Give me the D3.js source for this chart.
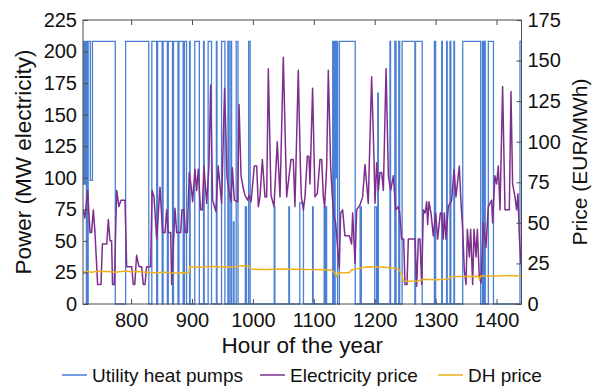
<!DOCTYPE html>
<html>
<head>
<meta charset="utf-8">
<script src="https://cdn.jsdelivr.net/npm/d3@7/dist/d3.min.js"></script>
<style>
  html, body { margin: 0; padding: 0; background: #fff; }
  svg { display: block; }
  text { font-family: "Liberation Sans", Arial, Helvetica, sans-serif; fill: #111; }
</style>
</head>
<body>
<svg id="chart" width="593" height="386"></svg>
<script>
// ---------------- DATA ----------------
const hourTicks  = [800, 900, 1000, 1100, 1200, 1300, 1400];
const powerTicks = [0, 25, 50, 75, 100, 125, 150, 175, 200, 225];
const priceTicks = [0, 25, 50, 75, 100, 125, 150, 175];

const seriesNames = ["Utility heat pumps", "Electricity price", "DH price"];

// Utility heat pumps (MW electricity), step changes: hour -> new level
const hpHours = [721,721.5,722.5,723.5,724.5,725.5,726.5,727.5,728.5,729.5,733,736.5,774,791,829,
  834,842,843.5,851,852.5,859.5,861,868,869.5,877,878.5,885.5,887.5,891,896,897,904.5,912,919,920,
  926.5,932,940,941,948.5,954,959,960,962.5,965,968,969,972.5,975.5,987.5,989.5,993,995.5,
  1035,1036,1059,1060,1077,1083,1098,1099,1117,1118,1120,1121,1131,1132,1133,1134,1135,1137,1138,1139,
  1142,1168,1176,1178,1200,1203,1205,1206,1225,1226,1233,1235,1239.5,1241,1245,1266,1267,1278,
  1298,1300,1310,1311,1318,1319,1323.5,1325,1330,1331,1344.5,1374,1377,1378,1379.5,1381.5,1386.5,1395,
  1438.5,1441];
const hpPower = [208,95,208,95,208,95,0,208,0,208,98,208,0,208,0,
  208,0,208,0,208,0,208,0,208,0,208,0,208,0,208,0,208,0,208,0,
  208,0,208,0,208,0,208,0,208,0,65,0,208,0,77,0,208,0,
  77,0,77,0,80,0,77,0,77,0,77,0,208,0,208,0,208,100,208,0,
  208,0,77,0,77,0,167,0,208,0,208,0,208,0,208,0,208,0,
  208,0,208,0,208,0,208,0,208,0,208,0,208,0,208,0,208,0,
  208,208];

// Electricity price (EUR/MWh)
const elecHours = [721.5,724,728.7,732.5,735,738,740.7,745,750.6,752.8,760,762.6,765.3,768,769.5,772.4,
  776.3,780,783.4,790,792.7,801,803.6,806,809,813,817.3,820,822.8,825.5,832,834.5,837.6,842,847.4,
  851.8,855.6,858.4,861,865,866.6,872,874.8,881.3,883.5,886.8,889,892.3,895.5,898.8,901,904.8,907.6,
  910.3,914,916.9,919.6,924,927.8,930.6,933.8,939.3,943,948.6,953.5,957.5,959.7,964,966.2,969.5,975,
  977.2,980.5,984.3,987,991.4,993.6,996.9,1002.3,1006.2,1008.9,1011.6,1015.5,1019.8,1022.6,1025.3,
  1029.7,1034.6,1040,1044.5,1049.9,1055.4,1062.5,1066.3,1069,1074.5,1077.8,1079.5,1082.8,1085.5,
  1089.3,1092,1093.7,1098,1101.9,1105.7,1110.1,1112.9,1115.6,1117.8,1121.1,1123.8,1127.6,1130.4,
  1133.1,1135.8,1138.6,1141.8,1144,1147.3,1151.1,1158.3,1162.1,1163.7,1165.9,1167.6,1170.3,1175.8,
  1180.1,1184,1189.4,1194.9,1198.7,1200.5,1203.2,1206,1208.7,1211.4,1214.2,1218.6,1222.4,1226.2,
  1230.6,1234.4,1238.8,1241,1244.3,1247.5,1249.7,1253,1255.2,1266.1,1268.9,1271.6,1274.3,1277.1,
  1279.8,1282.6,1285.3,1286.9,1289.1,1292.4,1296.2,1300.1,1303.3,1307.7,1309.9,1312.6,1314.3,1317,
  1320.8,1326.3,1330.2,1333.4,1338.9,1341.7,1344.4,1347.1,1349.9,1352.1,1355.3,1357.5,1360.8,1363,
  1366.3,1368.5,1371.7,1374.5,1378.3,1382.7,1386.5,1392,1393.6,1397.4,1400.2,1402.9,1405.7,1410,
  1413.9,1421,1423.7,1426.4,1430.3,1433,1435.2,1437.4,1440];
const elecPrice = [58,53,70,44,44,58,44,12,12,37,37,52,39,39,12,12,
  70,60,64,64,23,23,12,12,30,23,23,12,12,23,23,70,66,40,72,
  44,44,58,44,44,12,59,44,44,58,58,44,44,81,72,63,83,70,
  83,58,58,85,62,85,135,64,57,85,62,133,78,72,63,84,64,63,
  123,79,71,67,64,67,63,85,85,60,66,89,66,66,145,
  67,60,100,66,152,66,89,89,60,144,87,66,58,66,
  91,91,74,133,66,68,89,89,66,60,85,144,85,66,
  54,50,37,22,56,58,42,42,37,56,40,25,58,61,
  66,86,62,140,91,62,87,70,81,81,70,145,79,70,
  79,58,60,56,40,40,12,12,40,40,11,40,40,12,
  58,56,63,49,63,56,42,56,40,56,56,40,56,40,
  60,64,83,66,85,62,46,21,12,46,29,46,12,46,
  29,46,17,13,50,35,60,64,50,79,74,85,58,134,
  58,58,131,74,66,58,68,42,25];

// District heating price (EUR/MWh)
const dhHours = [721,728,735,745,760,775,790,800,812,825,840,855,870,885,895,896,915,930,945,960,
  972,976,992,997,1020,1050,1080,1100,1129,1134,1137,1140,1158,1162,1176,1188,1210,1236,1240,1244,
  1247,1270,1280,1300,1320,1326,1345,1370,1372,1374,1400,1420,1440];
const dhPrice = [19.5,20,19.5,20.2,20,19.6,20.3,19.8,20,19.6,19.2,19.5,18.9,19.2,19,23,22.7,23.2,22.8,23,
  22.6,23.6,23.5,21.5,21.3,21.6,21.2,21.3,21,19.5,17,19.3,19.2,21,22,23,22.8,22,21,18.5,
  14.2,14,15.2,15,15.3,17,16.9,17.1,15.3,17.3,17.2,17.5,17.4];

// ---------------- CHART ----------------
const svg = d3.select("#chart");
const L = 83, R = 521.5, T = 20, B = 304;

const x  = d3.scaleLinear().domain([721, 1441]).range([L, R]);
const yL = d3.scaleLinear().domain([0, 225]).range([B, T]);
const yR = d3.scaleLinear().domain([0, 175]).range([B, T]);

const colHP = "#4a7fd4", colEl = "#7e2f8e", colDH = "#edb120";
const axisCol = "#4d4d4d";
const tickFont = "20px";

svg.append("defs").append("clipPath").attr("id", "plotclip")
  .append("rect").attr("x", L).attr("y", T - 1).attr("width", R - L).attr("height", B - T + 2);

const plot = svg.append("g").attr("clip-path", "url(#plotclip)");

const hpData = hpHours.map((h, i) => ({h, v: hpPower[i]}));
const elData = elecHours.map((h, i) => ({h, v: elecPrice[i]}));
const dhData = dhHours.map((h, i) => ({h, v: dhPrice[i]}));

plot.append("path").datum(hpData)
  .attr("fill", "none").attr("stroke", colHP).attr("stroke-width", 1.3)
  .attr("d", d3.line().x(d => x(d.h)).y(d => yL(d.v)).curve(d3.curveStepAfter));

plot.append("path").datum(elData)
  .attr("fill", "none").attr("stroke", colEl).attr("stroke-width", 1.5)
  .attr("stroke-linejoin", "round")
  .attr("d", d3.line().x(d => x(d.h)).y(d => yR(d.v)));

plot.append("path").datum(dhData)
  .attr("fill", "none").attr("stroke", colDH).attr("stroke-width", 1.5)
  .attr("d", d3.line().x(d => x(d.h)).y(d => yR(d.v)));

// Axes
function styleAxis(g) {
  g.select(".domain").remove();
  g.selectAll(".tick line").attr("stroke", axisCol);
  g.selectAll(".tick text").style("font-size", tickFont).attr("fill", "#111");
}

svg.append("g").attr("transform", `translate(0,${B})`)
  .call(d3.axisBottom(x).tickValues(hourTicks).tickSize(-5).tickPadding(9).tickFormat(d3.format("d")))
  .call(styleAxis);

svg.append("g").attr("transform", `translate(0,${T})`)
  .call(d3.axisTop(x).tickValues(hourTicks).tickSize(-5).tickFormat(""))
  .call(styleAxis);

svg.append("g").attr("transform", `translate(${L},0)`)
  .call(d3.axisLeft(yL).tickValues(powerTicks).tickSize(-5).tickPadding(6).tickFormat(d3.format("d")))
  .call(styleAxis);

svg.append("g").attr("transform", `translate(${R},0)`)
  .call(d3.axisRight(yR).tickValues(priceTicks).tickSize(-5).tickPadding(6).tickFormat(d3.format("d")))
  .call(styleAxis);

svg.append("rect").attr("x", L).attr("y", T).attr("width", R - L).attr("height", B - T)
  .attr("fill", "none").attr("stroke", axisCol).attr("stroke-width", 1);

// Axis titles
svg.append("text").attr("x", (L + R) / 2).attr("y", 353).attr("text-anchor", "middle")
  .style("font-size", "22.5px").text("Hour of the year");

svg.append("text").attr("transform", `translate(31,${(T + B) / 2}) rotate(-90)`)
  .attr("text-anchor", "middle").style("font-size", "22.5px").text("Power (MW electricity)");

svg.append("text").attr("transform", `translate(587,${(T + B) / 2}) rotate(-90)`)
  .attr("text-anchor", "middle").style("font-size", "21px").text("Price (EUR/MWh)");

// Legend
const legendItems = [
  {name: seriesNames[0], color: colHP, x: 62},
  {name: seriesNames[1], color: colEl, x: 260},
  {name: seriesNames[2], color: colDH, x: 438}
];
const lg = svg.append("g");
legendItems.forEach(it => {
  lg.append("line").attr("x1", it.x).attr("x2", it.x + 25).attr("y1", 375).attr("y2", 375)
    .attr("stroke", it.color).attr("stroke-width", 1.5);
  lg.append("text").attr("x", it.x + 30).attr("y", 381.5).style("font-size", "19px").text(it.name);
});
</script>
</body>
</html>
